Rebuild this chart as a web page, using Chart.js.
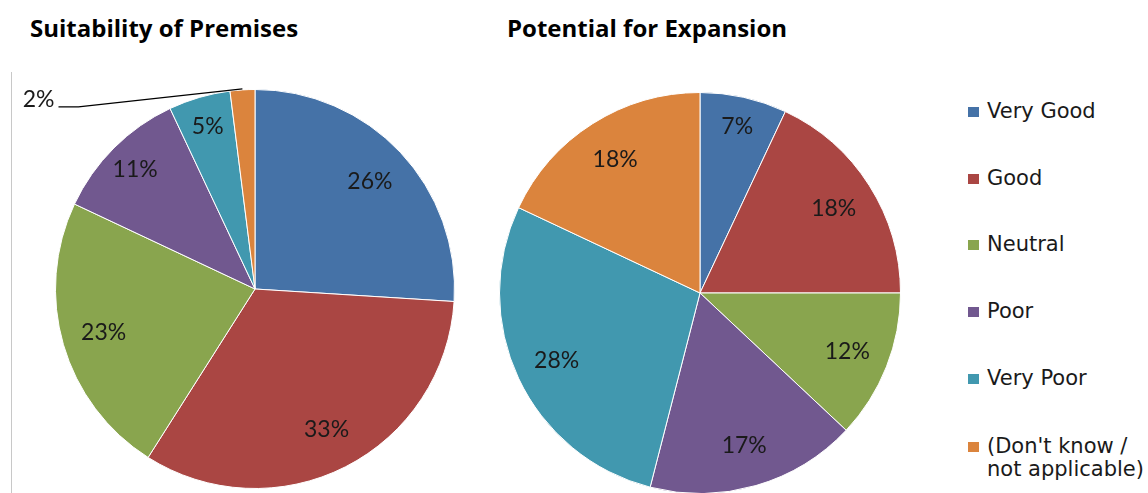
<!DOCTYPE html>
<html>
<head>
<meta charset="utf-8">
<script src="https://cdn.jsdelivr.net/npm/chart.js@4.4.1/dist/chart.umd.min.js"></script>
<style>
  html, body { margin: 0; padding: 0; background: #fff; overflow: hidden; }
  #wrap { position: relative; width: 1148px; height: 493px; }
  canvas { position: absolute; top: 0; }
  .title {
    position: absolute; top: 11px;
    font-family: "Liberation Sans Narrow", "Open Sans", sans-serif;
    font-weight: bold; font-size: 24px; color: #000; white-space: nowrap;
  }
  #frame { position: absolute; left: 11px; top: 72px; width: 1px; height: 421px; background: #c8c8c8; }
  #legend { position: absolute; left: 968px; top: 0; font-family: "DejaVu Sans", sans-serif; font-size: 21px; color: #1a1a1a; }
  #legend .item { position: absolute; left: 0; white-space: nowrap; line-height: 23px; }
  #legend .box { position: absolute; left: 0; top: 7px; width: 11px; height: 10px; }
  #legend .txt { position: absolute; left: 19px; top: 0; }
</style>
</head>
<body>
<div id="wrap">
  <div id="frame"></div>
  <div class="title" style="left:30px">Suitability of Premises</div>
  <div class="title" style="left:507px">Potential for Expansion</div>
  <canvas id="premisesChart" width="480" height="493" style="left:0"></canvas>
  <canvas id="expansionChart" width="440" height="500" style="left:480px"></canvas>
  <div id="legend"></div>
</div>
<script>
var categories = ['Very Good', 'Good', 'Neutral', 'Poor', 'Very Poor', "(Don't know / not applicable)"];
var legend_lines = [['Very Good'], ['Good'], ['Neutral'], ['Poor'], ['Very Poor'], ["(Don't know /", 'not applicable)']];
var premises_pct = [26, 33, 23, 11, 5, 2];
var expansion_pct = [7, 18, 12, 17, 28, 18];
var slice_colors = ['#4572A7', '#AA4643', '#89A54E', '#71588F', '#4198AF', '#DB843D'];

// percentage labels: inside the slice, or pulled out with a leader line when too thin
var pctLabels = {
    id: 'pctLabels',
    afterDatasetsDraw: function (chart) {
        var ctx = chart.ctx;
        var meta = chart.getDatasetMeta(0);
        var values = chart.data.datasets[0].data;
        ctx.save();
        ctx.fillStyle = '#1a1a1a';
        ctx.font = '23px Lato, "Open Sans", sans-serif';
        meta.data.forEach(function (arc, i) {
            var p = arc.getProps(['x', 'y', 'startAngle', 'endAngle', 'outerRadius'], true);
            var mid = (p.startAngle + p.endAngle) / 2;
            var r = p.outerRadius;
            var v = values[i];
            if (v >= 4) {
                var f = v < 12 ? 0.85 : 0.79;
                ctx.textAlign = 'center';
                ctx.textBaseline = 'middle';
                ctx.fillText(v + '%', p.x + Math.cos(mid) * r * f, p.y + Math.sin(mid) * r * f);
            } else {
                var ex = p.x + Math.cos(mid) * (r + 1);
                var ey = p.y + Math.sin(mid) * (r + 1);
                var elbowX = p.x - r * 0.885;
                var elbowY = ey + 18;
                var endX = p.x - r * 0.985;
                ctx.strokeStyle = '#000';
                ctx.lineWidth = 1.2;
                ctx.beginPath();
                ctx.moveTo(ex, ey);
                ctx.lineTo(elbowX, elbowY);
                ctx.lineTo(endX, elbowY);
                ctx.stroke();
                ctx.textAlign = 'right';
                ctx.textBaseline = 'middle';
                ctx.fillText(v + '%', endX - 4, elbowY - 7);
            }
        });
        ctx.restore();
    }
};

function pieOptions(padding) {
    return {
        responsive: false,
        animation: false,
        layout: { padding: padding },
        plugins: {
            legend: { display: false },
            tooltip: { enabled: false }
        }
    };
}

var premises_chart = new Chart(document.getElementById('premisesChart'), {
    type: 'pie',
    data: {
        labels: categories,
        datasets: [{
            data: premises_pct,
            backgroundColor: slice_colors,
            borderColor: '#ffffff',
            borderWidth: 1
        }]
    },
    options: pieOptions({ left: 55, right: 25, top: 89, bottom: 4 }),
    plugins: [pctLabels]
});

var expansion_chart = new Chart(document.getElementById('expansionChart'), {
    type: 'pie',
    data: {
        labels: categories,
        datasets: [{
            data: expansion_pct,
            backgroundColor: slice_colors,
            borderColor: '#ffffff',
            borderWidth: 1
        }]
    },
    options: pieOptions({ left: 19, right: 19, top: 92, bottom: 6 }),
    plugins: [pctLabels]
});

// legend on the right
var legend = document.getElementById('legend');
var row_top = [100, 167, 233, 300, 367, 435];
legend_lines.forEach(function (lines, i) {
    var item = document.createElement('div');
    item.className = 'item';
    item.style.top = row_top[i] + 'px';
    item.innerHTML = '<div class="box" style="background:' + slice_colors[i] + '"></div>' +
        '<div class="txt">' + lines.join('<br>') + '</div>';
    legend.appendChild(item);
});
</script>
</body>
</html>
